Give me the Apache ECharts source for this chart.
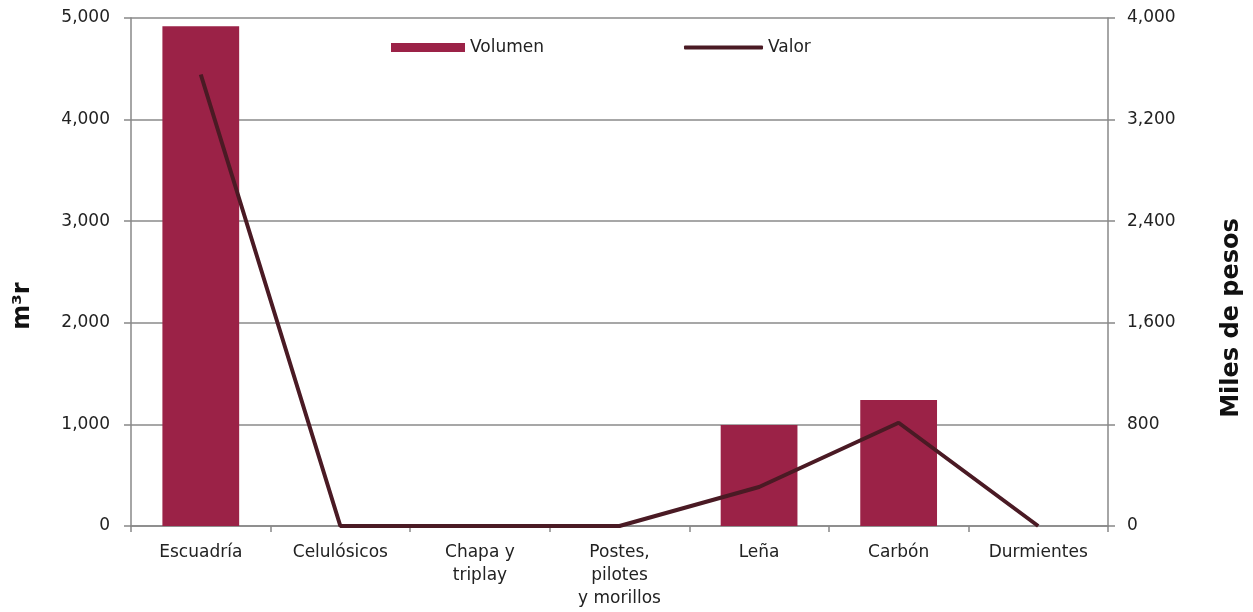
<!DOCTYPE html>
<html><head><meta charset="utf-8">
<script src="https://cdn.jsdelivr.net/npm/echarts@6/dist/echarts.min.js"></script>
<style>html,body{margin:0;padding:0;background:#fff}#c{width:1253px;height:612px}</style>
</head><body><div id="c"></div>
<script>
const categories = ['Escuadría','Celulósicos','Chapa y\ntriplay','Postes,\npilotes\ny morillos','Leña','Carbón','Durmientes'];
const volumen = [4920, 0, 0, 0, 995, 1240, 0];
const valor = [3555, 0, 0, 0, 307, 813, 0];
const leftTicks = [0, 1000, 2000, 3000, 4000, 5000];
const rightTicks = [0, 800, 1600, 2400, 3200, 4000];

const font = 'DejaVu Sans';
const chart = echarts.init(document.getElementById('c'));
const fmt = v => v.toLocaleString('en-US');
chart.setOption({
  animation: false,
  grid: {left: 131, right: 145, top: 18, bottom: 86, containLabel: false},
  legend: [{
    top: 34, left: 386, itemWidth: 74, itemHeight: 9, itemGap: 6,
    textStyle: {fontFamily: font, fontSize: 17, color: '#222'},
    data: [{name: 'Volumen', icon: 'rect'}]
  }, {
    top: 34, left: 679, itemWidth: 79, itemHeight: 4, itemGap: 4,
    textStyle: {fontFamily: font, fontSize: 17, color: '#222'},
    data: [{name: 'Valor', icon: 'roundRect'}]
  }],
  xAxis: {
    type: 'category', data: categories,
    axisLine: {lineStyle: {color: '#888', width: 1.5}},
    axisTick: {show: true, length: 6, lineStyle: {color: '#888', width: 1.5}},
    axisLabel: {fontFamily: font, fontSize: 17, color: '#222', margin: 15, lineHeight: 23, interval: 0}
  },
  yAxis: [{
    type: 'value', min: leftTicks[0], max: leftTicks[leftTicks.length-1], interval: 1000,
    axisLine: {show: true, lineStyle: {color: '#888', width: 1.5}},
    axisTick: {show: true, length: 7, lineStyle: {color: '#888', width: 1.5}},
    splitLine: {lineStyle: {color: '#8a8a8a', width: 1.5}},
    axisLabel: {fontFamily: font, fontSize: 17, color: '#222', margin: 21, formatter: fmt}
  }, {
    type: 'value', min: rightTicks[0], max: rightTicks[rightTicks.length-1], interval: 800,
    axisLine: {show: true, lineStyle: {color: '#888', width: 1.5}},
    axisTick: {show: true, length: 7, lineStyle: {color: '#888', width: 1.5}},
    splitLine: {show: false},
    axisLabel: {fontFamily: font, fontSize: 17, color: '#222', margin: 19, formatter: fmt}
  }],
  series: [{
    name: 'Volumen', type: 'bar', data: volumen, yAxisIndex: 0,
    barWidth: '55%', itemStyle: {color: '#9B2247'}
  }, {
    name: 'Valor', type: 'line', data: valor, yAxisIndex: 1,
    symbol: 'none', lineStyle: {color: '#4A1A24', width: 4}, itemStyle: {color: '#4A1A24'}
  }],
  graphic: [{
    type: 'text', x: 23, y: 306, rotation: Math.PI/2,
    style: {text: 'm³r', font: 'bold 24px "DejaVu Sans"', fill: '#111', align: 'center', verticalAlign: 'middle'}
  }, {
    type: 'text', x: 1232, y: 318, rotation: Math.PI/2,
    style: {text: 'Miles de pesos', font: 'bold 24px "DejaVu Sans"', fill: '#111', align: 'center', verticalAlign: 'middle'}
  }]
});
</script></body></html>
